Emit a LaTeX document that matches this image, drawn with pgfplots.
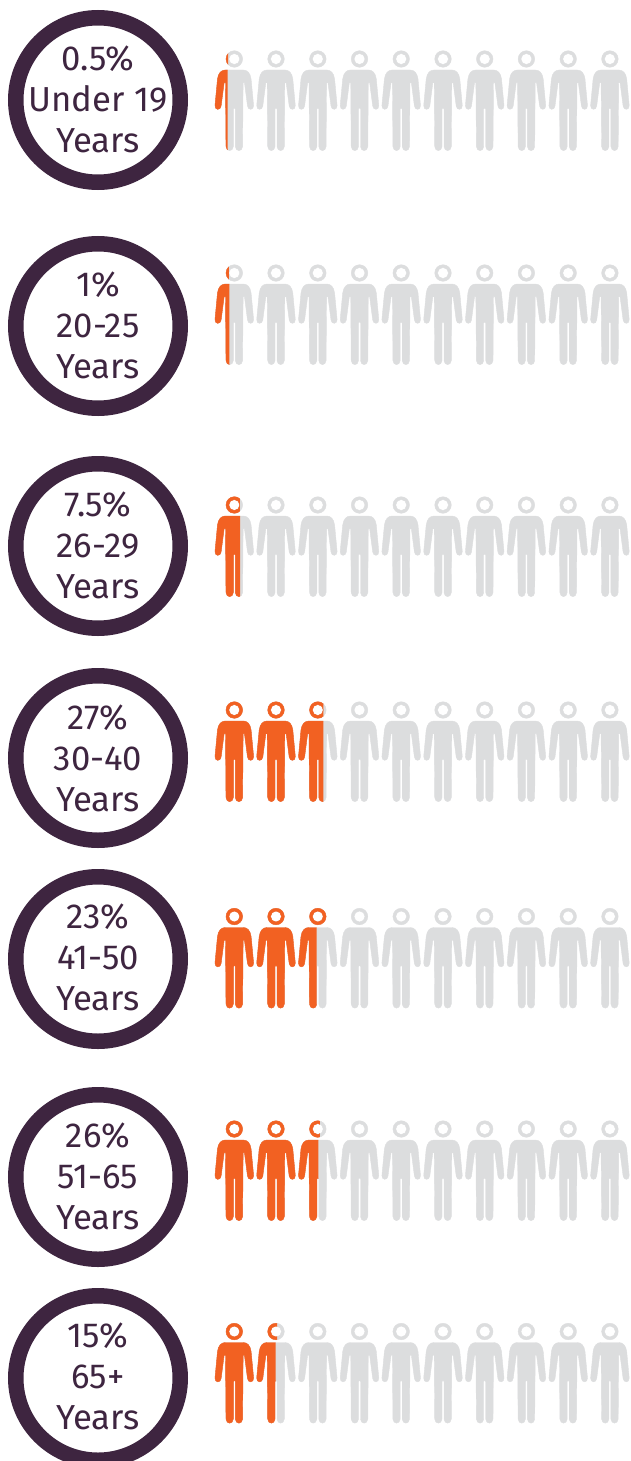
\documentclass[border=0pt]{standalone}
\usepackage{fontspec}
\setmainfont{Fira Sans}
\usepackage{xcolor}
\usepackage{pgfplots}
\pgfplotsset{compat=1.18}
\definecolor{ringc}{HTML}{3E2540}
\definecolor{orangec}{HTML}{F26122}
\definecolor{greyc}{HTML}{DCDDDE}

% person drawn with the head centre at the mark's origin, sizes in image pixels
\newcommand\headpath{(0,0) circle[radius=8.3] (0,0) circle[radius=5.5]}
\newcommand\bodypath{%
  (0,-11) -- (-9,-11) .. controls (-13,-11) and (-16,-14) .. (-16.8,-20)
  -- (-19.3,-46.5) .. controls (-19.6,-51.5) and (-13.6,-51.5) .. (-13.2,-47)
  -- (-10.2,-24) .. controls (-10,-23) and (-9,-23) .. (-8.8,-24)
  -- (-8.3,-87.5) .. controls (-8,-93) and (-1.3,-93) .. (-1,-87.5)
  -- (-1,-50) .. controls (-1,-48.5) and (1,-48.5) .. (1,-50)
  -- (1,-87.5) .. controls (1.3,-93) and (8,-93) .. (8.3,-87.5)
  -- (8.8,-24) .. controls (9,-23) and (10,-23) .. (10.2,-24)
  -- (13.2,-47) .. controls (13.6,-51.5) and (19.6,-51.5) .. (19.3,-46.5)
  -- (16.8,-20) .. controls (16,-14) and (13,-11) .. (9,-11) -- cycle}
\pgfdeclareplotmark{persongrey}{\fill[greyc,x=1pt,y=1pt,even odd rule] \headpath \bodypath;}
\pgfdeclareplotmark{personorange}{\fill[orangec,x=1pt,y=1pt,even odd rule] \headpath \bodypath;}
% orange up to dx of the person's centre: #2 for the body, #3 for the head
\newcommand\partmark[3]{%
  \pgfdeclareplotmark{#1}{%
    \begin{pgfscope}%
    \pgfpathrectanglecorners{\pgfpoint{-25pt}{-9.5pt}}{\pgfpoint{#2pt}{-100pt}}%
    \pgfusepathqclip
    \fill[orangec,x=1pt,y=1pt] \bodypath;%
    \end{pgfscope}%
    \begin{pgfscope}%
    \pgfpathrectanglecorners{\pgfpoint{-25pt}{15pt}}{\pgfpoint{#3pt}{-9.5pt}}%
    \pgfusepathqclip
    \fill[orangec,x=1pt,y=1pt,even odd rule] \headpath;%
    \end{pgfscope}}}
\partmark{parta}{-6.6}{-6.3}
\partmark{partb}{-5}{-5.5}
\partmark{partc}{5.7}{5.5}
\partmark{partd}{5.5}{5.5}
\partmark{parte}{-1.1}{9}
\partmark{partf}{0.5}{2}
\partmark{partg}{-0.3}{1}

\begin{document}
\begin{tikzpicture}
\begin{axis}[
  at={(0,0)}, anchor=south west,
  width=630pt, height=1461pt, scale only axis,
  xmin=0, xmax=630, ymin=0, ymax=1461, y dir=reverse,
  hide axis, clip marker paths=true,
]
% rings
\addplot[only marks, mark=*, mark size=82.25pt,
  mark options={draw=ringc, fill=white, line width=15.5pt}] coordinates {
  (98,100) (98,326) (98,546) (98,758) (98,959) (98,1177) (98,1378)};
% all figures in grey
\addplot[only marks, mark=persongrey] coordinates {
  (234.3,59) (276,59) (317.8,59) (359.5,59) (401.2,59) (443,59) (484.7,59) (526.4,59) (568.2,59) (609.9,59)
  (234.3,273) (276,273) (317.8,273) (359.5,273) (401.2,273) (443,273) (484.7,273) (526.4,273) (568.2,273) (609.9,273)
  (234.3,505) (276,505) (317.8,505) (359.5,505) (401.2,505) (443,505) (484.7,505) (526.4,505) (568.2,505) (609.9,505)
  (234.3,710) (276,710) (317.8,710) (359.5,710) (401.2,710) (443,710) (484.7,710) (526.4,710) (568.2,710) (609.9,710)
  (234.3,916.5) (276,916.5) (317.8,916.5) (359.5,916.5) (401.2,916.5) (443,916.5) (484.7,916.5) (526.4,916.5) (568.2,916.5) (609.9,916.5)
  (234.3,1129) (276,1129) (317.8,1129) (359.5,1129) (401.2,1129) (443,1129) (484.7,1129) (526.4,1129) (568.2,1129) (609.9,1129)
  (234.3,1331.5) (276,1331.5) (317.8,1331.5) (359.5,1331.5) (401.2,1331.5) (443,1331.5) (484.7,1331.5) (526.4,1331.5) (568.2,1331.5) (609.9,1331.5)
};
% whole orange figures
\addplot[only marks, mark=personorange] coordinates {
  (234.3,710) (276,710)
  (234.3,916.5) (276,916.5)
  (234.3,1129) (276,1129)
  (234.3,1331.5)
};
% part filled figures
\addplot[only marks, mark=parta] coordinates {(234.3,59)};
\addplot[only marks, mark=partb] coordinates {(234.3,273)};
\addplot[only marks, mark=partc] coordinates {(234.3,505)};
\addplot[only marks, mark=partd] coordinates {(317.8,710)};
\addplot[only marks, mark=parte] coordinates {(317.8,916.5)};
\addplot[only marks, mark=partf] coordinates {(317.8,1129)};
\addplot[only marks, mark=partg] coordinates {(276,1331.5)};
% ring texts
\tikzset{ringlabel/.style={align=center, text=ringc, inner sep=0pt,
  font=\fontsize{34.7}{41}\selectfont}}
\node[ringlabel] at (axis cs:98,99.6) {0.5\%\\Under 19\\Years};
\node[ringlabel] at (axis cs:98,325) {1\%\\20-25\\Years};
\node[ringlabel] at (axis cs:98,545.6) {7.5\%\\26-29\\Years};
\node[ringlabel] at (axis cs:98,758) {27\%\\30-40\\Years};
\node[ringlabel] at (axis cs:98,957.6) {23\%\\41-50\\Years};
\node[ringlabel] at (axis cs:98,1176) {26\%\\51-65\\Years};
\node[ringlabel] at (axis cs:98,1376.6) {15\%\\65+\\Years};
\end{axis}
\pgfresetboundingbox
\path[use as bounding box] (0,0) rectangle (630pt,1461pt);
\end{tikzpicture}
\end{document}
